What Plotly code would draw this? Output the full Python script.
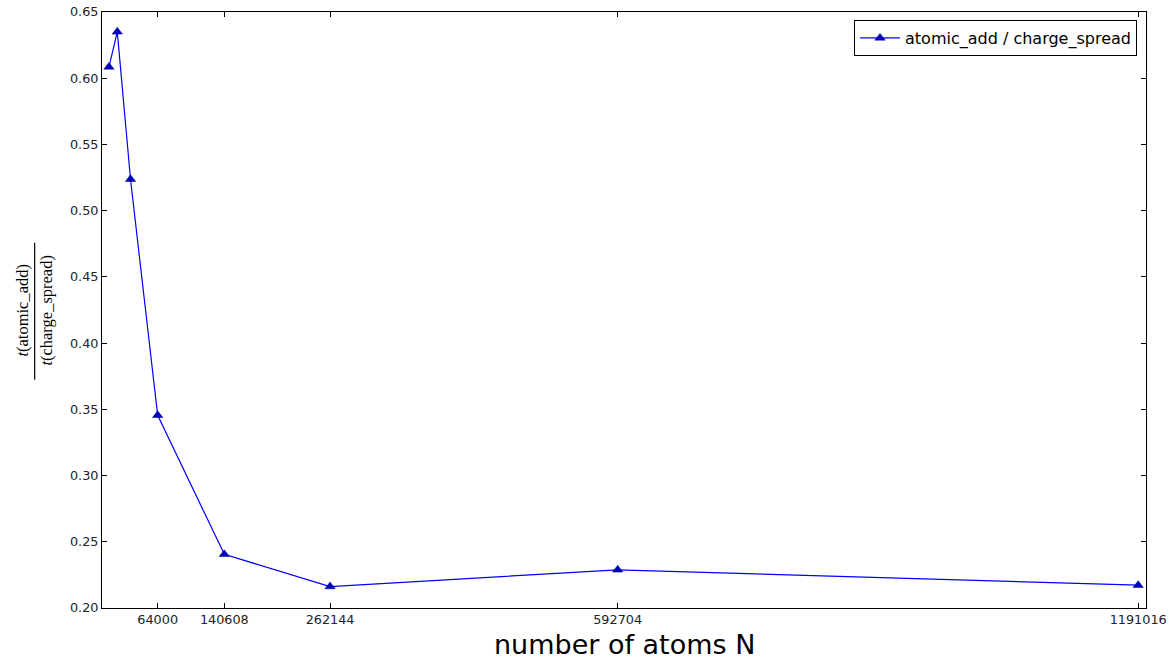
import plotly.graph_objects as go

# data
n_atoms = [8000, 17576, 32768, 64000, 140608, 262144, 592704, 1191016]
ratio = [0.6085, 0.635, 0.5237, 0.3455, 0.2405, 0.2162, 0.2288, 0.2172]
x_ticks = [64000, 140608, 262144, 592704, 1191016]
y_ticks = [0.20, 0.25, 0.30, 0.35, 0.40, 0.45, 0.50, 0.55, 0.60, 0.65]
series_name = "atomic_add / charge_spread"

fig = go.Figure()
fig.add_trace(go.Scatter(
    x=n_atoms, y=ratio, mode="lines+markers", name=series_name,
    line=dict(color="#0000ff", width=1.2),
    marker=dict(symbol="triangle-up", size=9, color="#0000bf",
                line=dict(color="#000080", width=0.5)),
))

axis_common = dict(
    showgrid=False, zeroline=False, showline=True, linecolor="black", linewidth=1,
    mirror="ticks", ticks="inside", ticklen=5, tickcolor="black", automargin=False,
    tickfont=dict(family="DejaVu Sans", size=12.8, color="#222"),
)

fig.update_xaxes(
    range=[0, 1200000], tickmode="array", tickvals=x_ticks,
    ticktext=[str(v) for v in x_ticks],
    **axis_common,
)
fig.update_yaxes(
    range=[0.2, 0.65], tickmode="array", tickvals=y_ticks,
    ticktext=[f"{v:.2f}" for v in y_ticks],
    **axis_common,
)

# x-axis title
fig.add_annotation(text="number of atoms N", xref="paper", yref="paper",
                   x=0.5, y=-0.062, xanchor="center", yanchor="middle",
                   showarrow=False, font=dict(family="DejaVu Sans", size=27, color="black"))

# y-axis label drawn as a fraction
fig.add_annotation(text="<i>t</i>(atomic_add)", xref="paper", yref="paper",
                   x=-0.077, y=0.5, xanchor="center", yanchor="middle", textangle=-90,
                   showarrow=False, font=dict(family="Liberation Serif", size=16.5, color="black"))
fig.add_annotation(text="<i>t</i>(charge_spread)", xref="paper", yref="paper",
                   x=-0.054, y=0.5, xanchor="center", yanchor="middle", textangle=-90,
                   showarrow=False, font=dict(family="Liberation Serif", size=16.5, color="black"))
fig.add_shape(type="line", xref="paper", yref="paper",
              x0=-0.0645, x1=-0.0645, y0=0.383, y1=0.613,
              line=dict(color="black", width=1.2))

fig.update_layout(
    width=1171, height=661,
    margin=dict(l=102, r=25, t=12, b=53),
    plot_bgcolor="white", paper_bgcolor="white",
    showlegend=True,
    legend=dict(x=0.9914, y=0.9866, xanchor="right", yanchor="top",
                bordercolor="black", borderwidth=1, bgcolor="white",
                font=dict(family="DejaVu Sans", size=16, color="black"),
                itemwidth=40),
)

fig.write_html("out.html")
